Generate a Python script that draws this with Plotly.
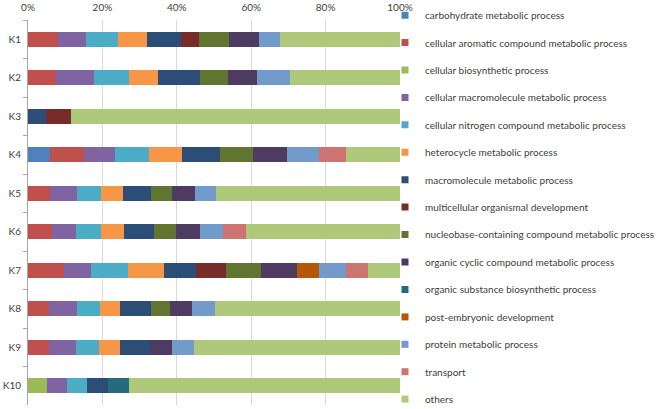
import plotly.graph_objects as go

categories = ["K1", "K2", "K3", "K4", "K5", "K6", "K7", "K8", "K9", "K10"]

series_names = [
    "carbohydrate metabolic process",
    "cellular aromatic compound metabolic process",
    "cellular biosynthetic process",
    "cellular macromolecule metabolic process",
    "cellular nitrogen compound metabolic process",
    "heterocycle metabolic process",
    "macromolecule metabolic process",
    "multicellular organismal development",
    "nucleobase-containing compound metabolic process",
    "organic cyclic compound metabolic process",
    "organic substance biosynthetic process",
    "post-embryonic development",
    "protein metabolic process",
    "transport",
    "others",
]

#                      K1    K2    K3    K4    K5    K6    K7    K8    K9    K10
carbohydrate =        [0,    0,    0,    6.0,  0,    0,    0,    0,    0,    0]
cell_aromatic =       [8.0,  7.6,  0,    9.0,  6.0,  6.4,  9.6,  5.7,  5.7,  0]
cell_biosynthetic =   [0,    0,    0,    0,    0,    0,    0,    0,    0,    5.1]
cell_macromolecule =  [7.7,  10.2, 0,    8.4,  7.1,  6.5,  7.4,  7.5,  7.3,  5.5]
cell_nitrogen =       [8.4,  9.4,  0,    9.1,  6.4,  6.7,  9.9,  6.2,  6.1,  5.2]
heterocycle =         [8.0,  7.7,  0,    9.0,  6.1,  6.1,  9.6,  5.4,  5.6,  0]
macromolecule =       [8.9,  11.3, 4.9,  10.2, 7.5,  8.1,  8.7,  8.3,  8.1,  5.8]
multicellular =       [5.0,  0,    6.7,  0,    0,    0,    7.9,  0,    0,    0]
nucleobase =          [7.9,  7.6,  0,    8.8,  5.7,  6.1,  9.6,  5.2,  0,    0]
organic_cyclic =      [8.1,  7.8,  0,    9.1,  6.2,  6.4,  9.6,  5.9,  5.8,  0]
organic_substance =   [0,    0,    0,    0,    0,    0,    0,    0,    0,    5.5]
post_embryonic =      [0,    0,    0,    0,    0,    0,    5.8,  0,    0,    0]
protein =             [5.8,  8.9,  0,    8.5,  5.6,  6.2,  7.4,  6.1,  5.9,  0]
transport =           [0,    0,    0,    7.3,  0,    6.1,  5.9,  0,    0,    0]
others =              [32.2, 29.5, 88.4, 14.6, 49.4, 41.4, 8.6,  49.7, 55.5, 72.9]

series_values = [
    carbohydrate, cell_aromatic, cell_biosynthetic, cell_macromolecule,
    cell_nitrogen, heterocycle, macromolecule, multicellular, nucleobase,
    organic_cyclic, organic_substance, post_embryonic, protein, transport, others,
]

colors = [
    "#4F81BD", "#C0504D", "#9BBB59", "#8064A2", "#4BACC6", "#F79646",
    "#2C4D75", "#772C2A", "#5F7530", "#4D3B62", "#276A7C", "#B65708",
    "#729ACA", "#CD7371", "#AFC97A",
]

x_ticks = [0, 20, 40, 60, 80, 100]
x_tick_labels = ["0%", "20%", "40%", "60%", "80%", "100%"]

legend_ids = ["legend", "legend2", "legend3"]

fig = go.Figure()
for i, (name, vals, col) in enumerate(zip(series_names, series_values, colors)):
    fig.add_trace(go.Bar(
        y=categories, x=vals, name=name, orientation="h",
        marker=dict(color=col, line=dict(width=0)),
        legendgroup=name, showlegend=False,
    ))
    # legend entry with a small square swatch (no data drawn)
    fig.add_trace(go.Scatter(
        x=[None], y=[None], mode="markers", name=name,
        marker=dict(color=col, symbol="square", size=7),
        legendgroup=name, showlegend=True, hoverinfo="skip",
        legend=legend_ids[i // 5],
    ))

font_family = "Lato, 'Liberation Sans', sans-serif"
legend_common = dict(
    xref="container", yref="container", xanchor="left", yanchor="top",
    traceorder="grouped", tracegroupgap=8.4,
    font=dict(size=10, color="#404040"),
    bgcolor="rgba(0,0,0,0)",
    x=385 / 658,
)
H = 409
fig.update_layout(
    barmode="stack",
    barnorm="percent",
    bargap=0.6,
    width=658, height=H,
    margin=dict(l=28, r=258, t=20, b=4, autoexpand=False),
    paper_bgcolor="white",
    plot_bgcolor="white",
    font=dict(family=font_family, size=10, color="#404040"),
    showlegend=True,
    legend=dict(y=1 - 0.7 / H, **legend_common),
    legend2=dict(y=1 - 137.8 / H, **legend_common),
    legend3=dict(y=1 - 275.0 / H, **legend_common),
    xaxis=dict(
        side="top", range=[0, 100], tickvals=x_ticks, ticktext=x_tick_labels,
        showgrid=True, gridcolor="#D9D9D9", gridwidth=1,
        zeroline=False, showline=False, ticks="",
        ticklabelstandoff=6,
        tickfont=dict(size=10, color="#404040"),
        fixedrange=True,
    ),
    yaxis=dict(
        categoryorder="array", categoryarray=categories, autorange="reversed",
        showline=True, linecolor="#A6A6A6", linewidth=1,
        ticks="outside", tickson="boundaries", ticklen=4, tickcolor="#A6A6A6",
        ticklabelstandoff=4,
        showgrid=False, zeroline=False,
        tickfont=dict(size=10, color="#404040"),
        fixedrange=True,
    ),
)

fig.write_html(
    "out.html",
    config={"displayModeBar": False},
    post_script="document.body.style.margin='0';",
)
